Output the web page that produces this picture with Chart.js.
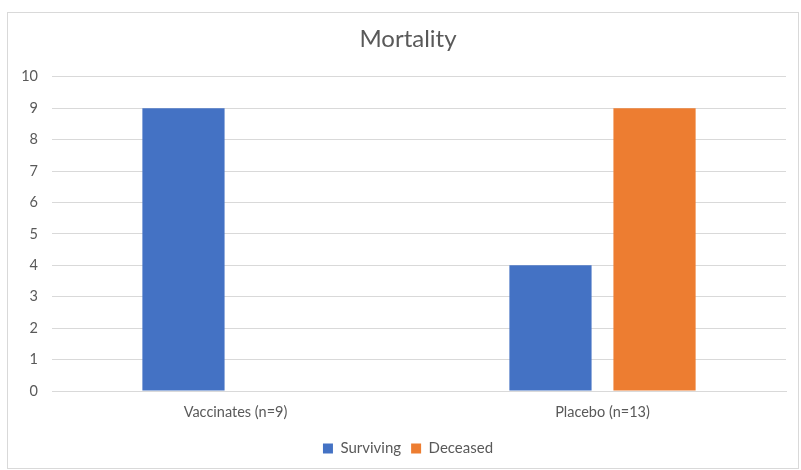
<!doctype html>
<html lang="en">
  <head>
    <meta charset="utf-8">
    <title>Mortality</title>
    <script src="https://cdn.jsdelivr.net/npm/chart.js"></script>
    <style>
        html, body { margin: 0; padding: 0; background: #fff; overflow: hidden; }
        #frame {
            position: absolute;
            left: 7px;
            top: 12px;
            width: 790px;
            height: 455px;
            border: 1px solid #d9d9d9;
        }
        #wrap {
            position: absolute;
            left: 0;
            top: 0;
            width: 801px;
            height: 470px;
        }
    </style>
  </head>
  <body>
    <div id="frame"></div>
    <div id="wrap"><canvas id="chart"></canvas></div>

    <script>
        const Categories = ['Vaccinates (n=9)', 'Placebo (n=13)']
        const Surviving = [9, 4]
        const Deceased = [0, 9]
        const YTicks = [0, 1, 2, 3, 4, 5, 6, 7, 8, 9, 10]

        const TextColor = '#595959'
        const GridColor = '#d9d9d9'
        Chart.defaults.font.family = 'Lato, "Open Sans", sans-serif'
        Chart.defaults.color = TextColor

        new Chart(document.getElementById('chart'), {
            type: 'bar',
            data: {
                labels: Categories,
                datasets: [
                    {
                        label: 'Surviving',
                        data: Surviving,
                        backgroundColor: '#4472c4',
                        categoryPercentage: 0.567,
                        barPercentage: 0.79
                    },
                    {
                        label: 'Deceased',
                        data: Deceased,
                        backgroundColor: '#ed7d31',
                        categoryPercentage: 0.567,
                        barPercentage: 0.79
                    }
                ]
            },
            options: {
                responsive: true,
                maintainAspectRatio: false,
                animation: false,
                layout: {
                    padding: { left: 15, right: 0, top: 0, bottom: 4 }
                },
                plugins: {
                    title: {
                        display: true,
                        text: 'Mortality',
                        color: TextColor,
                        font: { size: 24, weight: 'normal' },
                        padding: { top: 25, bottom: 23 }
                    },
                    legend: {
                        position: 'bottom',
                        labels: {
                            color: TextColor,
                            font: { size: 15 },
                            boxWidth: 10,
                            boxHeight: 10,
                            padding: 10
                        }
                    },
                    tooltip: { enabled: false }
                },
                scales: {
                    x: {
                        grid: { display: false, drawTicks: false },
                        border: { display: true, color: GridColor },
                        ticks: { color: TextColor, font: { size: 14.5 }, padding: 13 },
                        afterFit: (scale) => { scale.height = 40 }
                    },
                    y: {
                        min: 0,
                        max: 10,
                        afterBuildTicks: (scale) => { scale.ticks = YTicks.map((v) => ({ value: v })) },
                        grid: { color: GridColor, drawTicks: false },
                        border: { display: false },
                        ticks: { color: TextColor, font: { size: 14.5 }, padding: 14 },
                        afterFit: (scale) => { scale.width = 37 }
                    },
                    // empty axis on the right, only to keep 15px gap after the plot
                    yRight: {
                        position: 'right',
                        display: true,
                        grid: { display: false, drawTicks: false },
                        border: { display: false },
                        ticks: { display: false },
                        afterFit: (scale) => { scale.width = 15 }
                    }
                }
            }
        })
    </script>
  </body>
</html>
